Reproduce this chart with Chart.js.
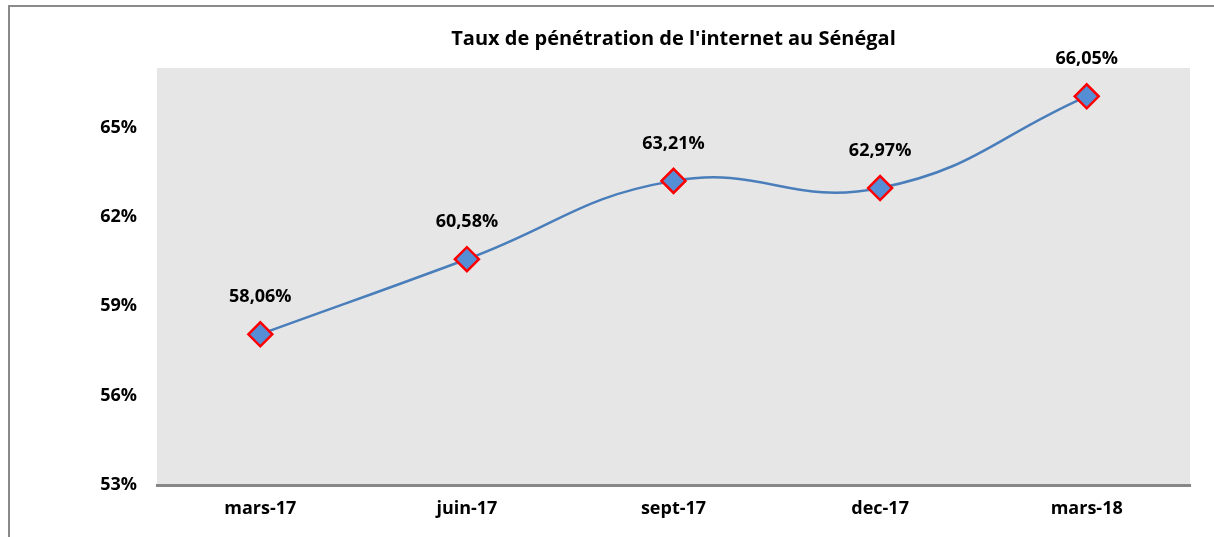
<!DOCTYPE html>
<html lang="fr">
<head>
<meta charset="UTF-8">
<title>Taux de pénétration de l'internet au Sénégal</title>
<script src="https://cdn.jsdelivr.net/npm/chart.js"></script>
<style>
    html, body { margin: 0; padding: 0; background: #fff; }
    #wrap { position: absolute; left: 0; top: 0; width: 1214px; height: 537px; }
    #frame { position: absolute; left: 8px; top: 5px; width: 1206px; height: 532px;
             border-left: 2px solid #8a8a8a; border-top: 2px solid #8a8a8a; pointer-events: none; }
</style>
</head>
<body>
<div id="wrap"><canvas id="chart"></canvas></div>
<div id="frame"></div>
<script>
    const titleText = "Taux de pénétration de l'internet au Sénégal";
    const periods = ['mars-17', 'juin-17', 'sept-17', 'dec-17', 'mars-18'];
    const penetration = [58.06, 60.58, 63.21, 62.97, 66.05];
    const pointLabels = ['58,06%', '60,58%', '63,21%', '62,97%', '66,05%'];
    const yTicks = [53, 56, 59, 62, 65];

    const fontFamily = "'Open Sans', sans-serif";

    // grey plot background
    const plotBg = {
        id: 'plotBg',
        beforeDraw(chart) {
            const { ctx, chartArea: a } = chart;
            ctx.save();
            ctx.fillStyle = '#e6e6e6';
            ctx.fillRect(a.left, a.top, a.right - a.left, a.bottom - a.top);
            ctx.restore();
        }
    };

    // value labels above each point
    const valueLabels = {
        id: 'valueLabels',
        afterDatasetsDraw(chart) {
            const ctx = chart.ctx;
            const meta = chart.getDatasetMeta(0);
            ctx.save();
            ctx.font = 'bold 18px ' + fontFamily;
            ctx.fillStyle = '#000';
            ctx.textAlign = 'center';
            ctx.textBaseline = 'middle';
            meta.data.forEach((pt, i) => {
                ctx.fillText(pointLabels[i], pt.x, pt.y - 37);
            });
            ctx.restore();
        }
    };

    new Chart(document.getElementById('chart'), {
        type: 'line',
        data: {
            labels: periods,
            datasets: [{
                data: penetration,
                borderColor: '#4a7ebb',
                borderWidth: 2.5,
                tension: 0.45,
                pointStyle: 'rectRot',
                pointRadius: 12,
                pointHoverRadius: 12,
                pointBackgroundColor: '#558ed5',
                pointBorderColor: '#ff0000',
                pointBorderWidth: 2.5
            }]
        },
        options: {
            responsive: true,
            maintainAspectRatio: false,
            animation: false,
            layout: { padding: { left: 0, right: 24, top: 0, bottom: 0 } },
            plugins: {
                legend: { display: false },
                tooltip: { enabled: false },
                title: {
                    display: true,
                    text: titleText,
                    fullSize: false,
                    color: '#000',
                    font: { family: fontFamily, size: 20, weight: 'bold', lineHeight: 1.2 },
                    padding: { top: 27, bottom: 17 }
                }
            },
            scales: {
                x: {
                    offset: true,
                    grid: { display: false, drawTicks: false },
                    border: { display: true, color: '#878787', width: 3 },
                    ticks: {
                        color: '#000',
                        padding: 13,
                        font: { family: fontFamily, size: 18, weight: 'bold' }
                    },
                    afterFit(scale) { scale.height = 52; }
                },
                y: {
                    min: 53,
                    max: 67,
                    grid: { display: false, drawTicks: false },
                    border: { display: false },
                    afterBuildTicks(scale) {
                        scale.ticks = yTicks.map(v => ({ value: v }));
                    },
                    ticks: {
                        color: '#000',
                        padding: 20,
                        font: { family: fontFamily, size: 18, weight: 'bold' },
                        callback: v => v + '%'
                    },
                    afterFit(scale) { scale.width = 157; }
                }
            }
        },
        plugins: [plotBg, valueLabels]
    });
</script>
</body>
</html>
